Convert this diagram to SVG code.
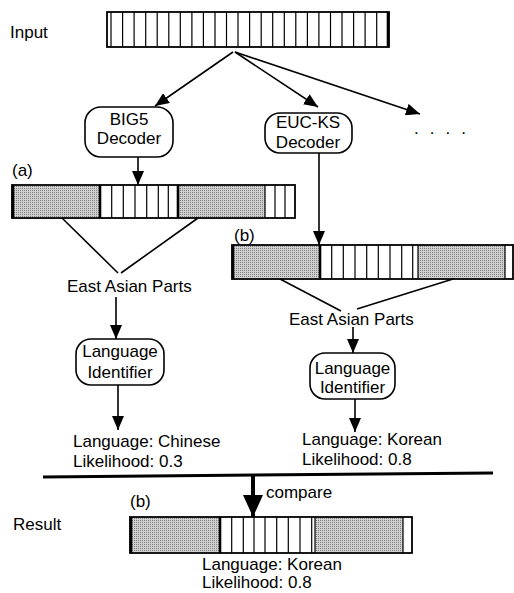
<svg xmlns="http://www.w3.org/2000/svg" width="514" height="593" viewBox="0 0 514 593">
<defs>
<pattern id="dots" width="2" height="2" patternUnits="userSpaceOnUse">
<rect width="2" height="2" fill="#d0d0d0"/>
<rect width="1" height="1" fill="#808080"/>
</pattern>
<marker id="ah" markerUnits="userSpaceOnUse" markerWidth="14" markerHeight="12" refX="14" refY="6" orient="auto">
<path d="M0,0 L14,6 L0,12 z" fill="#000"/>
</marker>
<marker id="big" markerUnits="userSpaceOnUse" markerWidth="22" markerHeight="20" refX="22" refY="10" orient="auto">
<path d="M0,0 L22,10 L0,20 z" fill="#000"/>
</marker>
</defs>
<style>
text{font-family:"Liberation Sans",Arial,sans-serif;font-size:17px;fill:#000}
.mid{text-anchor:middle}
.box{fill:#fff;stroke:#000;stroke-width:1.6}
.bar{fill:#fff;stroke:#000;stroke-width:1.8}
.sh{fill:url(#dots);stroke:none}
.cell{fill:none;stroke:#000;stroke-width:1.2}
.thick{fill:none;stroke:#000;stroke-width:2.6}
.con{fill:none;stroke:#000;stroke-width:1.6}
</style>

<g id="labels">
<text x="10" y="38">Input</text>
<text x="13" y="530">Result</text>
</g>

<g id="input-bar">
<rect class="bar" x="107" y="12" width="282" height="35"/>
<path class="cell" d="M111,12V47M122.6,12V47M134.1,12V47M145.7,12V47M157.2,12V47M168.8,12V47M180.3,12V47M191.9,12V47M203.4,12V47M215,12V47M226.5,12V47M238,12V47M249.6,12V47M261.2,12V47M272.7,12V47M284.3,12V47M295.8,12V47M307.4,12V47M318.9,12V47M330.5,12V47M342,12V47M353.6,12V47M365.1,12V47M376.7,12V47"/>
<path class="thick" d="M388,12V47"/>
</g>

<g id="big5-decoder">
<rect class="box" x="85" y="107" width="88" height="50" rx="16"/>
<text class="mid" x="129" y="125">BIG5</text>
<text class="mid" x="129" y="144">Decoder</text>
</g>

<g id="euc-ks-decoder">
<rect class="box" x="265" y="113" width="87" height="40" rx="15"/>
<text class="mid" x="308" y="128">EUC-KS</text>
<text class="mid" x="308" y="148">Decoder</text>
</g>

<g id="more">
<text x="414" y="134" style="letter-spacing:11px">....</text>
</g>

<g id="bar-a">
<text x="12" y="176">(a)</text>
<rect class="bar" x="12" y="185" width="283" height="33"/>
<rect class="sh" x="13" y="186" width="87" height="31"/>
<rect class="sh" x="178" y="186" width="87" height="31"/>
<path class="cell" d="M111.7,185V218M123.3,185V218M135,185V218M146.7,185V218M158.3,185V218M168.3,185V218M275,185V218M285,185V218M265,185V218"/>
<path class="thick" d="M100,185V218M178,185V218M13,185V218"/>
</g>

<g id="bar-b">
<text x="234" y="241">(b)</text>
<rect class="bar" x="232" y="245" width="281" height="34"/>
<rect class="sh" x="233" y="246" width="87" height="32"/>
<rect class="sh" x="418" y="246" width="87" height="32"/>
<path class="cell" d="M331.7,245V279M343.3,245V279M355,245V279M366.7,245V279M378.3,245V279M390,245V279M401.7,245V279M412.7,245V279M418,245V279M505,245V279"/>
<path class="thick" d="M320,245V279M233,245V279"/>
</g>

<g id="east-asian-a">
<text x="67" y="292">East Asian Parts</text>
</g>
<g id="east-asian-b">
<text x="289" y="325">East Asian Parts</text>
</g>

<g id="lang-id-a">
<rect class="box" x="76" y="339" width="88" height="46" rx="15"/>
<text class="mid" x="120" y="357">Language</text>
<text class="mid" x="120" y="378">Identifier</text>
</g>

<g id="lang-id-b">
<rect class="box" x="310" y="353" width="85" height="46" rx="15"/>
<text class="mid" x="352.5" y="374">Language</text>
<text class="mid" x="352.5" y="393">Identifier</text>
</g>

<g id="result-a">
<text x="73" y="447">Language: Chinese</text>
<text x="73" y="467">Likelihood: 0.3</text>
</g>

<g id="result-b">
<text x="302" y="445">Language: Korean</text>
<text x="302" y="465">Likelihood: 0.8</text>
</g>

<g id="final-bar">
<text x="130" y="507">(b)</text>
<rect class="bar" x="130" y="517" width="282" height="36"/>
<rect class="sh" x="131" y="518" width="89" height="34"/>
<rect class="sh" x="315" y="518" width="88" height="34"/>
<path class="cell" d="M231.7,517V553M243.3,517V553M254,517V553M265,517V553M276.7,517V553M288.3,517V553M300,517V553M311.7,517V553M315,517V553M403,517V553"/>
<path class="thick" d="M220,517V553M131,517V553"/>
<text x="202" y="570">Language: Korean</text>
<text x="202" y="588">Likelihood: 0.8</text>
</g>

<g id="connectors">
<line class="con" x1="233" y1="52" x2="155" y2="106" marker-end="url(#ah)"/>
<line class="con" x1="235" y1="52" x2="318" y2="107" marker-end="url(#ah)"/>
<line class="con" x1="235" y1="52" x2="420" y2="114" marker-end="url(#ah)"/>
<line class="con" x1="138" y1="157" x2="138" y2="185" marker-end="url(#ah)"/>
<line class="con" x1="319" y1="153" x2="319" y2="245" marker-end="url(#ah)"/>
<line class="con" x1="62" y1="218" x2="118" y2="273"/>
<line class="con" x1="198" y1="218" x2="121" y2="273"/>
<line class="con" x1="116" y1="297" x2="116" y2="339" marker-end="url(#ah)"/>
<line class="con" x1="118" y1="385" x2="118" y2="430" marker-end="url(#ah)"/>
<line class="con" x1="280" y1="279" x2="341" y2="311"/>
<line class="con" x1="453" y1="279" x2="357" y2="309"/>
<line class="con" x1="353" y1="327" x2="353" y2="353" marker-end="url(#ah)"/>
<line class="con" x1="355" y1="399" x2="355" y2="432" marker-end="url(#ah)"/>
<line x1="43" y1="477" x2="493" y2="473" stroke="#000" stroke-width="3"/>
<line x1="253" y1="475" x2="253" y2="517" stroke="#000" stroke-width="4" marker-end="url(#big)"/>
<text x="266" y="498">compare</text>
</g>
</svg>
